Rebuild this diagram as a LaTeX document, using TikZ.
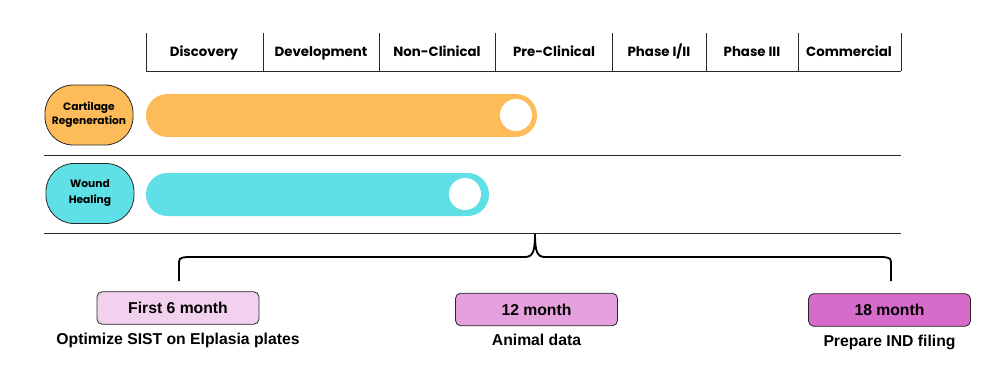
\documentclass[tikz,border=0pt]{standalone}
\usepackage{fontspec}
\setmainfont{Poppins}
\newfontfamily\arialfont{Liberation Sans}
\usetikzlibrary{positioning}

\definecolor{barorange}{RGB}{253,187,90}
\definecolor{barcyan}{RGB}{94,224,230}
\definecolor{monthA}{RGB}{242,209,238}
\definecolor{monthB}{RGB}{228,161,221}
\definecolor{monthC}{RGB}{214,107,201}
\definecolor{linegray}{RGB}{40,40,40}

\tikzset{
  stage/.style={anchor=base, font=\fontsize{10}{12}\selectfont\bfseries},
  rowlabel/.style={draw=linegray, line width=0.6pt, rounded corners=21pt,
    minimum width=66pt, minimum height=45pt, inner sep=0pt, align=center,
    font=\fontsize{8}{10.5}\selectfont\bfseries},
  monthbox/.style={draw=linegray, line width=0.6pt, rounded corners=4pt,
    minimum width=121.5pt, minimum height=24.5pt, inner sep=0pt,
    font=\arialfont\fontsize{11.8}{14}\selectfont\bfseries},
  task/.style={inner sep=1pt, font=\arialfont\fontsize{11.8}{14}\selectfont\bfseries},
}

\begin{document}
\begin{tikzpicture}[x=0.75pt, y=-0.75pt]
  \useasboundingbox (0,0) rectangle (997,385);

  % stage header
  \draw[linegray] (146,71) -- (901,71);
  \foreach \xx in {146,263,379,495,612,706,798,901}
    \draw[linegray] (\xx,33) -- (\xx,71);

  \node[stage] (disc) at (204,57) {Discovery};
  \node[stage] (devel) at (321,57) {Development};
  \node[stage] (nonclin) at (437,57) {Non-Clinical};
  \node[stage] (preclin) at (554,57) {Pre-Clinical};
  \node[stage] (phaseA) at (659,57) {Phase I/II};
  \node[stage] (phaseB) at (752,57) {Phase III};
  \node[stage] (comm) at (849,57) {Commercial};

  % cartilage row
  \node[rowlabel, fill=barorange] (cart) at (89,115) {Cartilage\\Regeneration};
  \fill[barorange, rounded corners=16pt] (146,94) rectangle (537,137);
  \fill[white] (516,115) circle (12pt);
  \draw[linegray] (44,155) -- (901,155);

  % wound row
  \node[rowlabel, fill=barcyan] (wound) at (90,193.5) {Wound\\[1.5pt]Healing};
  \fill[barcyan, rounded corners=16pt] (146,173) rectangle (489,216);
  \fill[white] (465,194) circle (12pt);
  \draw[linegray] (44,233) -- (901,233);

  % brace over the milestones
  \coordinate (braceL) at (179,281);
  \coordinate (braceTip) at (535,234);
  \coordinate (braceR) at (891,281);
  \draw[line width=1.4pt] (braceL) -- (179,266) .. controls (179,258) .. (187,257)
    -- (525,257) .. controls (533,257) and (535,251) .. (braceTip)
    .. controls (535,251) and (537,257) .. (545,257)
    -- (883,257) .. controls (891,258) .. (891,266) -- (braceR);

  % milestones
  \node[monthbox, fill=monthA] (m6) at (178,308) {First 6 month};
  \node[task, below=5pt of m6] (t6) {Optimize SIST on Elplasia plates};

  \node[monthbox, fill=monthB] (m12) at (536.5,309.5) {12 month};
  \node[task, below=5pt of m12] (t12) {Animal data};

  \node[monthbox, fill=monthC] (m18) at (889.5,310) {18 month};
  \node[task, below=5pt of m18] (t18) {Prepare IND filing};

\end{tikzpicture}
\end{document}
